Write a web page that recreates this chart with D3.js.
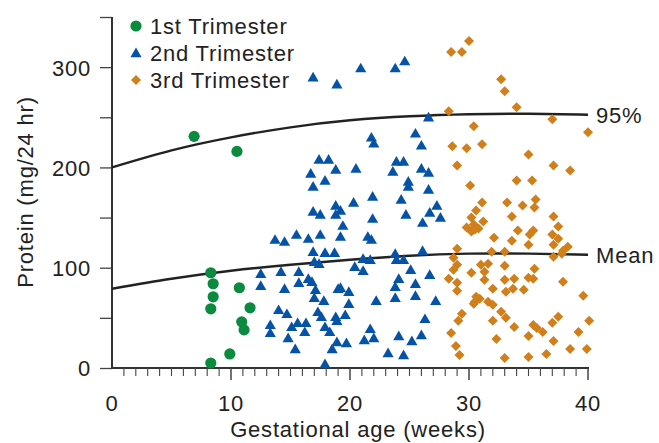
<!DOCTYPE html>
<html lang="en">
<head>
    <meta charset="UTF-8">
    <title>Protein by gestational age</title>
</head>
<style>
    html,
    body {
        margin: 0;
        padding: 0;
        background: #fff;
    }
    text {
        font-family: "Liberation Sans", Arial, Helvetica, sans-serif;
        font-size: 22px;
        letter-spacing: 0.8px;
        fill: #222;
    }
</style>
<body>
    <script src="https://cdn.jsdelivr.net/npm/d3@7"></script>
    <script>
        // data: [week, protein mg/24 hr]
        var first = [[6.9,231],[10.5,216],[8.3,95],[8.5,84],[10.7,80],[8.5,71],[8.3,59],[11.6,60],[10.9,46],[11.1,38],[9.9,14],[8.3,5]];
        var second = [[16.9,290],[18.9,283],[20.9,299],[23.8,299],[24.6,306],[26.6,250],[21.8,230],[22.0,224],[25.5,234],[26.0,222],
            [17.4,208],[18.2,208],[18.8,198],[16.7,194],[17.9,187],[16.9,181],[16.9,156],[17.5,153],[18.8,162],[18.8,153],
            [13.7,128],[14.5,126],[15.5,133],[16.5,129],[17.5,133],[16.9,116],[17.9,115],[18.7,115],[17.0,106],[17.4,104],
            [12.5,94],[14.2,96],[15.7,96],[16.5,89],[12.5,82],[14.5,79],[15.7,85],[16.8,86],[17.1,78],[17.0,70],[17.8,67],[19.0,79],
            [14.0,58],[14.7,54],[17.3,56],[17.6,51],[13.3,43],[13.3,35],[15.1,41],[15.6,45],[16.3,45],[16.2,36],[14.8,30],[15.4,19],
            [17.9,41],[18.3,36],[18.8,51],[18.5,19],[17.9,4],
            [20.5,199],[23.9,206],[24.5,206],[23.6,196],[26.0,199],[26.6,195],[24.9,186],[24.9,181],[26.6,178],[24.3,168],[21.9,171],
            [20.3,165],[19.2,157],[19.4,142],[19.2,131],[21.9,149],[24.7,153],[27.3,162],[26.7,155],[27.6,150],[26.1,145],[21.5,131],[21.8,128],
            [21.1,109],[21.7,108],[20.4,101],[21.1,97],[23.8,114],[23.9,108],[24.5,108],[26.1,117],[25.1,98],[24.1,89],[23.8,81],[25.5,84],
            [26.7,93],[25.5,72],[23.8,70],[22.2,67],[27.2,67],
            [19.2,80],[19.9,76],[19.9,64],[19.6,53],[18.9,47],[26.3,49],[21.7,39],[22.0,30],[21.2,28],[19.7,25],[18.9,26],[24.1,32],
            [25.2,27],[26.0,33],[23.2,15],[24.5,13]];
        var third = [[28.5,315],[29.4,315],[30.0,326],[28.3,256],[30.4,241],[28.6,221],[29.8,219],[31.1,223],[29.0,202],[30.1,182],
            [32.7,288],[33.0,276],[34.0,260],[37.0,248],[40.0,235],[35.0,213],[37.1,202],[38.5,197],[34.0,187],[35.3,187],
            [31.1,165],[30.6,157],[33.2,165],[33.6,151],[31.2,146],[30.2,150],[29.8,140],[30.2,136],[30.8,139],[30.4,143],[30.5,138],
            [32.1,130],[33.6,127],[31.9,116],[33.0,116],
            [29.0,119],[28.7,110],[29.0,103],[28.7,98],[28.3,89],[29.0,85],[29.0,77],[30.2,95],[31.0,103],[31.6,104],[31.3,96],[33.0,102],
            [31.3,88],[33.0,88],[32.0,79],[33.8,89],[33.1,76],
            [30.5,66],[30.9,69],[31.6,66],[32.0,63],[32.7,56],[33.1,50],[33.8,41],[29.4,54],[29.1,47],[28.5,35],[28.9,22],[29.2,13],
            [32.0,47],[32.3,29],[33.0,10],[30.6,71],[30.4,64],
            [35.6,168],[34.5,162],[35.5,160],[37.1,151],[37.5,141],[34.1,137],[35.4,137],[35.1,133],[35.0,123],[37.0,133],[37.5,129],
            [37.1,123],[38.3,121],[37.9,117],[37.8,114],[37.1,111],
            [35.5,99],[35.4,89],[35.0,90],[33.7,79],[34.6,78],[37.9,86],[39.6,72],
            [37.5,51],[37.0,45],[35.4,43],[35.7,40],[36.2,36],[35.0,32],[37.1,27],[40.1,47],[39.2,36],[35.0,11],[36.5,14],[38.5,19],[39.9,19]];
        // reference curves
        var curveWeeks = [0, 5, 10, 15, 20, 25, 30, 35, 40];
        var upper95 = [200, 217, 230, 240, 247, 251, 253, 253.5, 252.5];
        var meanLine = [79, 89, 97, 103, 108, 112, 114, 114, 113];
        var xTicks = [0, 10, 20, 30, 40];
        var yTicks = [0, 100, 200, 300];
        var legendNames = ['1st Trimester', '2nd Trimester', '3rd Trimester'];

        var W = 659, H = 443;
        var green = '#0b8b3f', blue = '#0553a6', orange = '#d17f1a';

        var svg = d3.select('body').append('svg').attr('width', W).attr('height', H);

        var x = d3.scaleLinear().domain([0, 40]).range([112, 588]);
        var y = d3.scaleLinear().domain([0, 350]).range([368, 17]);

        // y axis: tick every 50, labels on hundreds
        var yAxis = d3.axisLeft(y).tickValues(d3.range(0, 351, 50)).tickSize(12)
            .tickFormat(function (d) { return yTicks.indexOf(d) >= 0 ? d : ''; });
        var gy = svg.append('g').attr('transform', 'translate(112,0)').call(yAxis);
        gy.select('.domain').remove();
        gy.append('line').attr('x1', 0).attr('x2', 0).attr('y1', y(350)).attr('y2', y(0) + 1)
            .attr('stroke', '#333').attr('stroke-width', 2);
        gy.selectAll('.tick line').attr('stroke', '#444').attr('stroke-width', 1.3);
        gy.selectAll('.tick text').attr('x', -21).attr('dy', '0.36em')
            .attr('font-family', null).attr('font-size', null).style('fill', '#222');

        // x axis: minor ticks each week
        var gx = svg.append('g').attr('transform', 'translate(0,368)');
        gx.append('line').attr('x1', 111).attr('x2', x(40) + 1).attr('y1', 0).attr('y2', 0)
            .attr('stroke', '#333').attr('stroke-width', 2);
        gx.selectAll('.minor').data(d3.range(1, 41)).enter().append('line')
            .attr('x1', function (d) { return x(d); }).attr('x2', function (d) { return x(d); })
            .attr('y1', 0).attr('y2', function (d) { return d % 10 === 0 ? 12 : 8; })
            .attr('stroke', '#444').attr('stroke-width', function (d) { return d % 10 === 0 ? 1.5 : 1.1; });
        gx.selectAll('.xl').data(xTicks).enter().append('text')
            .attr('x', function (d) { return x(d); }).attr('y', 43)
            .attr('text-anchor', 'middle').text(function (d) { return d; });

        // axis titles
        svg.append('text').attr('x', 358).attr('y', 437).attr('text-anchor', 'middle')
            .text('Gestational age (weeks)');
        svg.append('text').attr('transform', 'translate(33,192) rotate(-90)').attr('text-anchor', 'middle')
            .text('Protein (mg/24 hr)');

        // curves
        var line = d3.line().x(function (d, i) { return x(curveWeeks[i]); }).y(function (d) { return y(d); })
            .curve(d3.curveNatural);
        svg.append('path').datum(upper95).attr('d', line).attr('fill', 'none').attr('stroke', '#222').attr('stroke-width', 2.4);
        svg.append('path').datum(meanLine).attr('d', line).attr('fill', 'none').attr('stroke', '#222').attr('stroke-width', 2.4);
        svg.append('text').attr('x', 596).attr('y', y(upper95[8]) + 8).text('95%');
        svg.append('text').attr('x', 596).attr('y', y(meanLine[8]) + 8).text('Mean');

        // points
        var tri = d3.symbol().type(d3.symbolTriangle).size(54);
        var dia = d3.symbol().type(d3.symbolSquare).size(50);
        svg.append('g').selectAll('circle').data(first).enter().append('circle')
            .attr('cx', function (d) { return x(d[0]); }).attr('cy', function (d) { return y(d[1]); })
            .attr('r', 5.6).attr('fill', green);
        svg.append('g').selectAll('path').data(second).enter().append('path')
            .attr('d', tri).attr('fill', blue)
            .attr('transform', function (d) { return 'translate(' + x(d[0]) + ',' + (y(d[1]) + 1) + ')'; });
        svg.append('g').selectAll('path').data(third).enter().append('path')
            .attr('d', dia).attr('fill', orange)
            .attr('transform', function (d) { return 'translate(' + x(d[0]) + ',' + y(d[1]) + ') rotate(45)'; });

        // legend
        var lg = svg.append('g');
        var rows = [26, 53, 80];
        lg.append('circle').attr('cx', 136).attr('cy', rows[0]).attr('r', 5.6).attr('fill', green);
        lg.append('path').attr('d', tri).attr('fill', blue).attr('transform', 'translate(136,' + (rows[1] + 1) + ')');
        lg.append('path').attr('d', dia).attr('fill', orange).attr('transform', 'translate(136,' + rows[2] + ') rotate(45)');
        lg.selectAll('.lt').data(legendNames).enter().append('text')
            .attr('x', 150).attr('y', function (d, i) { return rows[i] + 8; })
            .text(function (d) { return d; });
    </script>
</body>
</html>
